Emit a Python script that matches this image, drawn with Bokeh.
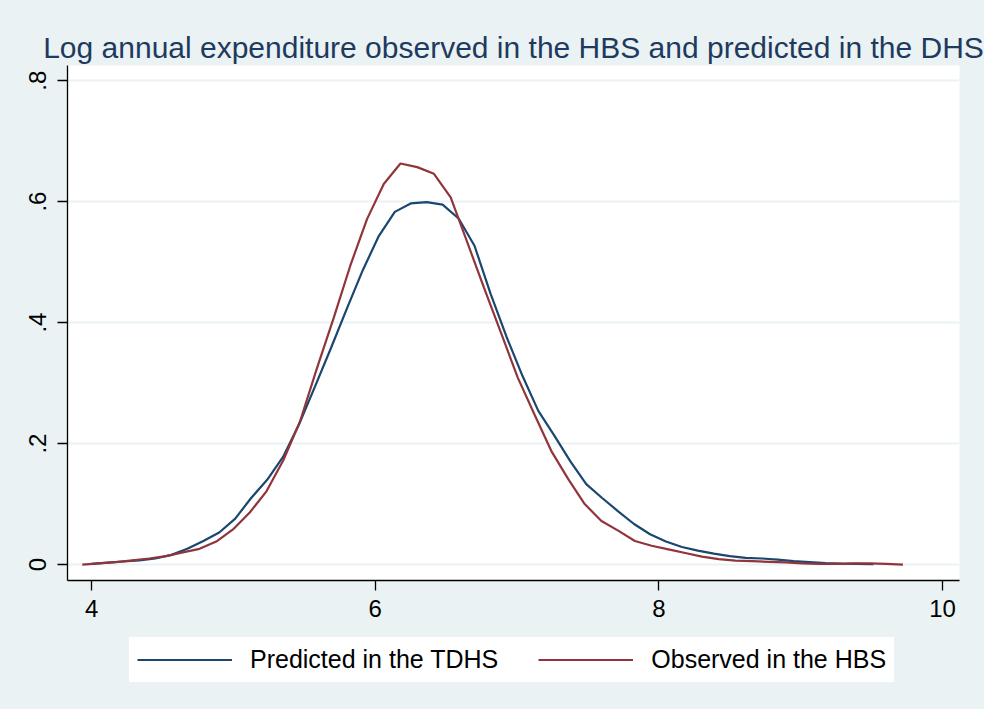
from bokeh.plotting import figure
from bokeh.models import Range1d, FixedTicker, Legend, LegendItem
from bokeh.layouts import column
from bokeh.embed import file_html
from bokeh.resources import INLINE

# ---- data ----
x_pred = [4.000, 4.113, 4.225, 4.338, 4.450, 4.563, 4.675, 4.788, 4.900, 5.013,
          5.125, 5.238, 5.350, 5.463, 5.575, 5.688, 5.800, 5.913, 6.025, 6.138,
          6.250, 6.363, 6.475, 6.588, 6.700, 6.813, 6.925, 7.038, 7.150, 7.263,
          7.375, 7.488, 7.600, 7.713, 7.825, 7.938, 8.050, 8.163, 8.275, 8.388,
          8.500, 8.613, 8.725, 8.838, 8.950, 9.063, 9.175, 9.288, 9.400, 9.513]
y_pred = [0.001, 0.003, 0.005, 0.007, 0.010, 0.016, 0.026, 0.039, 0.053, 0.076,
          0.110, 0.140, 0.178, 0.232, 0.294, 0.358, 0.423, 0.487, 0.543, 0.583,
          0.597, 0.599, 0.595, 0.572, 0.527, 0.448, 0.377, 0.312, 0.254, 0.213,
          0.171, 0.133, 0.110, 0.088, 0.067, 0.050, 0.038, 0.029, 0.023, 0.018,
          0.014, 0.011, 0.010, 0.008, 0.0055, 0.004, 0.0025, 0.0015, 0.001, 0.0005]

x_obs = [3.934, 4.052, 4.170, 4.288, 4.406, 4.525, 4.643, 4.761, 4.879, 4.997,
         5.115, 5.233, 5.351, 5.469, 5.587, 5.706, 5.824, 5.942, 6.060, 6.178,
         6.296, 6.414, 6.532, 6.650, 6.768, 6.887, 7.005, 7.123, 7.241, 7.359,
         7.477, 7.595, 7.713, 7.831, 7.949, 8.068, 8.186, 8.304, 8.422, 8.540,
         8.658, 8.776, 8.894, 9.012, 9.130, 9.249, 9.367, 9.485, 9.603, 9.721]
y_obs = [0.000, 0.002, 0.004, 0.007, 0.010, 0.014, 0.020, 0.026, 0.038, 0.058,
         0.086, 0.121, 0.172, 0.236, 0.323, 0.407, 0.494, 0.571, 0.629, 0.663,
         0.657, 0.646, 0.607, 0.532, 0.457, 0.383, 0.309, 0.248, 0.188, 0.142,
         0.100, 0.072, 0.056, 0.039, 0.031, 0.025, 0.019, 0.013, 0.009, 0.0065,
         0.0055, 0.0045, 0.0035, 0.002, 0.001, 0.001, 0.002, 0.002, 0.001, 0.000]

x_ticks = [4, 6, 8, 10]
y_ticks = [0, 0.2, 0.4, 0.6, 0.8]
y_tick_labels = ["0", ".2", ".4", ".6", ".8"]

title_text = "Log annual expenditure observed in the HBS and predicted in the DHS"
label_pred = "Predicted in the TDHS"
label_obs = "Observed in the HBS"

NAVY = "#1A476F"
MAROON = "#90353B"
BG = "#EAF2F3"
FONT = "Liberation Sans"

# ---------------- main plot ----------------
p = figure(width=984, height=630, output_backend="svg", toolbar_location=None,
           x_range=Range1d(3.83, 10.12), y_range=Range1d(-0.0264, 0.825),
           min_border_left=67, min_border_right=25, min_border_top=65,
           min_border_bottom=50)

p.background_fill_color = "white"
p.border_fill_color = BG
p.outline_line_color = None

p.title.text = title_text
p.title.text_font = FONT
p.title.text_font_size = "30px"
p.title.text_font_style = "normal"
p.title.text_color = "#1E3A5F"
p.title.align = "center"
p.title.standoff = 3

p.xgrid.grid_line_color = None
p.ygrid.ticker = FixedTicker(ticks=y_ticks)
p.ygrid.grid_line_color = BG
p.ygrid.grid_line_width = 2

p.xaxis.ticker = FixedTicker(ticks=x_ticks)
p.yaxis.ticker = FixedTicker(ticks=y_ticks)
p.yaxis.major_label_overrides = {t: l for t, l in zip(y_ticks, y_tick_labels)}
p.yaxis.major_label_orientation = "vertical"
for ax in (p.xaxis, p.yaxis):
    ax.axis_line_color = "black"
    ax.axis_line_width = 1.3
    ax.major_tick_line_color = "black"
    ax.major_tick_line_width = 1.3
    ax.major_tick_out = 10
    ax.major_tick_in = 0
    ax.minor_tick_line_color = None
    ax.major_label_text_font = FONT
    ax.major_label_text_font_size = "24px"
    ax.major_label_text_color = "black"
p.xaxis.major_label_standoff = 9
p.yaxis.major_label_standoff = 11

p.line(x_pred, y_pred, line_color=NAVY, line_width=2.2)
p.line(x_obs, y_obs, line_color=MAROON, line_width=2.2)

# ---------------- legend strip ----------------
lf = figure(width=984, height=79, output_backend="svg", toolbar_location=None,
            x_range=Range1d(100, 101), y_range=Range1d(100, 101),
            x_axis_type=None, y_axis_type=None,
            min_border_left=0, min_border_right=0, min_border_top=0,
            min_border_bottom=0)
lf.background_fill_color = BG
lf.border_fill_color = BG
lf.outline_line_color = None
lf.xgrid.grid_line_color = None
lf.ygrid.grid_line_color = None

lr_pred = lf.line(x_pred, y_pred, line_color=NAVY, line_width=2.2)
lr_obs = lf.line(x_obs, y_obs, line_color=MAROON, line_width=2.2)

legend = Legend(items=[LegendItem(label=label_pred, renderers=[lr_pred]),
                       LegendItem(label=label_obs, renderers=[lr_obs])],
                orientation="horizontal", location=(62, 27))
legend.background_fill_color = "white"
legend.background_fill_alpha = 1.0
legend.border_line_color = "white"
legend.border_line_width = 1
legend.label_text_font = FONT
legend.label_text_font_size = "25px"
legend.label_text_color = "black"
legend.glyph_width = 95
legend.glyph_height = 25
legend.label_height = 25
legend.label_standoff = 18
legend.spacing = 40
legend.padding = 7
legend.margin = 0
lf.add_layout(legend, "center")

layout = column(p, lf, spacing=0)
layout.background = BG
open("out.html", "w").write(file_html(layout, INLINE))
